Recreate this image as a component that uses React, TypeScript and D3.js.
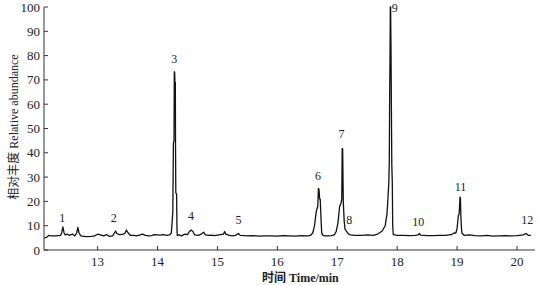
import React from "react";
import * as d3 from "d3";

// Chromatogram points: [time (min), relative abundance]
const times: number[] = [
  12.11, 12.15, 12.18, 12.22, 12.3, 12.38, 12.4, 12.42, 12.44, 12.46, 12.5, 12.53, 12.58, 12.62, 12.65, 12.67, 12.69, 12.72,
  12.8, 12.9, 12.95, 13.0, 13.05, 13.1, 13.15, 13.2, 13.25, 13.28, 13.3, 13.32, 13.36, 13.42, 13.46, 13.48, 13.51, 13.55,
  13.6, 13.65, 13.7, 13.75, 13.8, 13.85, 13.9, 13.95, 14.0, 14.05, 14.1, 14.15, 14.2, 14.23, 14.245, 14.255, 14.265, 14.275,
  14.28, 14.286, 14.29, 14.297, 14.3, 14.305, 14.318, 14.325, 14.33, 14.36, 14.4, 14.45, 14.5, 14.53, 14.56, 14.59, 14.62,
  14.68, 14.72, 14.77, 14.8, 14.85, 14.9, 14.95, 15.0, 15.05, 15.1, 15.12, 15.14, 15.2, 15.25, 15.3, 15.35, 15.38, 15.45,
  15.5, 15.6, 15.7, 15.8, 15.9, 16.0, 16.1, 16.2, 16.3, 16.4, 16.5, 16.55, 16.59, 16.62, 16.65, 16.675, 16.685, 16.695,
  16.705, 16.715, 16.73, 16.74, 16.76, 16.8, 16.85, 16.9, 16.95, 16.98, 17.01, 17.04, 17.06, 17.075, 17.082, 17.09, 17.1,
  17.115, 17.13, 17.16, 17.19, 17.22, 17.3, 17.4, 17.5, 17.6, 17.66, 17.7, 17.75, 17.8, 17.83, 17.85, 17.86, 17.868, 17.874,
  17.88, 17.885, 17.89, 17.896, 17.902, 17.91, 17.918, 17.925, 17.935, 18.0, 18.1, 18.2, 18.3, 18.35, 18.37, 18.39, 18.5,
  18.6, 18.7, 18.8, 18.9, 18.95, 18.98, 19.0, 19.02, 19.035, 19.048, 19.055, 19.062, 19.07, 19.08, 19.1, 19.12, 19.2, 19.3,
  19.4, 19.5, 19.6, 19.7, 19.8, 19.9, 20.0, 20.1, 20.15, 20.19, 20.23, 20.28,
];
const abundance: number[] = [
  5.0, 5.2, 6.0, 5.8, 5.8, 6.0, 7.0, 9.5, 7.0, 6.2, 6.5, 6.0, 6.6, 5.8, 7.0, 9.3, 7.0, 5.8,
  5.5, 5.6, 5.8, 6.5, 6.2, 5.8, 6.3, 5.6, 5.8, 7.0, 7.8, 6.8, 6.3, 6.4, 7.0, 8.2, 7.0, 6.0,
  6.0, 5.8, 6.1, 6.5, 6.0, 5.8, 5.9, 6.3, 6.2, 6.1, 6.3, 6.0, 6.2, 7.0, 12.0, 15.7, 44.0, 45.0,
  73.4, 73.0, 69.0, 69.0, 44.0, 23.5, 23.0, 8.0, 6.0, 6.2, 5.8, 6.5, 6.3, 7.5, 8.2, 7.6, 6.2,
  6.0, 6.4, 7.3, 6.2, 6.0, 6.1, 5.9, 6.1, 6.3, 6.5, 7.6, 6.5, 6.0, 5.8, 6.0, 6.8, 6.0, 5.9,
  5.8, 5.9, 5.7, 5.8, 5.8, 5.7, 5.9, 5.8, 5.7, 5.9, 5.8, 6.0, 7.0, 10.0, 16.0, 18.0, 25.4, 25.0,
  21.0, 21.0, 12.0, 7.0, 6.0, 5.8, 5.8, 5.9, 6.2, 7.5, 11.0, 18.0, 19.0, 21.0, 41.8, 41.5, 20.0,
  12.0, 8.5, 7.5, 6.5, 6.2, 6.0, 6.0, 6.2, 6.0, 6.4, 7.0, 7.8, 10.0, 15.0, 23.0, 28.0, 36.0, 63.0,
  79.0, 100.0, 100.0, 84.0, 63.0, 35.0, 28.0, 10.0, 6.3, 6.0, 6.0, 5.9, 6.0, 6.2, 6.8, 6.1, 5.9,
  5.9, 6.0, 6.0, 6.3, 7.0, 7.0, 9.0, 14.0, 15.0, 21.7, 21.5, 14.4, 10.0, 7.0, 6.5, 6.0, 6.2,
  5.9, 5.8, 6.0, 5.7, 5.8, 5.9, 5.8, 5.9, 6.2, 6.8, 6.0, 6.0,
];

const peakLabels: string[] = ["1", "2", "3", "4", "5", "6", "7", "8", "9", "10", "11", "12"];
const peakLabelTimes: number[] = [12.41, 13.27, 14.28, 14.56, 15.35, 16.68, 17.07, 17.2, 17.96, 18.35, 19.055, 20.17];
const peakLabelHeights: number[] = [13.2, 13.2, 78.6, 14, 12.3, 30.5, 47.7, 12.3, 99.6, 11.5, 26, 12.3];

const xTicks: number[] = [13, 14, 15, 16, 17, 18, 19, 20];
const yTicks: number[] = [0, 10, 20, 30, 40, 50, 60, 70, 80, 90, 100];

const W = 538;
const H = 285;
const margin = { left: 44, right: 3, top: 7, bottom: 35 };

export default function App() {
  const x = d3
    .scaleLinear()
    .domain([12.105, 20.3])
    .range([margin.left, W - margin.right]);
  const y = d3
    .scaleLinear()
    .domain([0, 100])
    .range([H - margin.bottom, margin.top]);

  const pts: [number, number][] = times.map((t, i) => [t, abundance[i]]);
  const line = d3
    .line<[number, number]>()
    .x((d) => x(d[0]))
    .y((d) => y(d[1]));

  const serif = "'Liberation Serif', 'Times New Roman', serif";
  const axisColor = "#333";
  const y0 = y(0);

  return (
    <svg
      width={W}
      height={H}
      style={{ position: "absolute", left: 0, top: 0, background: "#fff" }}
    >
      {/* axes */}
      <line x1={x.range()[0]} x2={x.range()[1]} y1={y0} y2={y0} stroke={axisColor} strokeWidth={1} />
      <line x1={margin.left} x2={margin.left} y1={y0} y2={y(100)} stroke={axisColor} strokeWidth={1} />
      {xTicks.map((t) => (
        <g key={"xt" + t}>
          <line x1={x(t)} x2={x(t)} y1={y0} y2={y0 - 4} stroke={axisColor} />
          <text
            x={x(t)}
            y={y0 + 16}
            textAnchor="middle"
            fontFamily={serif}
            fontSize={13}
            fill="#222"
          >
            {t}
          </text>
        </g>
      ))}
      {yTicks.map((v) => (
        <g key={"yt" + v}>
          <line x1={margin.left} x2={margin.left + 4} y1={y(v)} y2={y(v)} stroke={axisColor} />
          <text
            x={margin.left - 4}
            y={y(v)}
            dy="0.35em"
            textAnchor="end"
            fontFamily={serif}
            fontSize={13}
            fill="#222"
          >
            {v}
          </text>
        </g>
      ))}
      {/* axis titles */}
      <text
        transform={`translate(14, ${127}) rotate(-90)`}
        textAnchor="middle"
        dy="0.35em"
        fontFamily={serif}
        fontSize={12}
        fill="#222"
      >
        <tspan fontFamily="'Noto Sans CJK SC', sans-serif">相对丰度</tspan> Relative abundance
      </text>
      <text x={262} y={282} fontFamily={serif} fontSize={12} fill="#222" fontWeight="bold">
        <tspan fontFamily="'Noto Sans CJK SC', sans-serif">时间</tspan> Time/min
      </text>
      {/* chromatogram */}
      <path d={line(pts) ?? ""} fill="none" stroke="#111" strokeWidth={1.3} strokeLinejoin="round" />
      {/* peak labels */}
      {peakLabels.map((lab, i) => (
        <text
          key={"pl" + lab}
          x={x(peakLabelTimes[i])}
          y={y(peakLabelHeights[i])}
          dy="0.35em"
          textAnchor="middle"
          fontFamily={serif}
          fontSize={12}
          fill="#222"
        >
          {lab}
        </text>
      ))}
    </svg>
  );
}
